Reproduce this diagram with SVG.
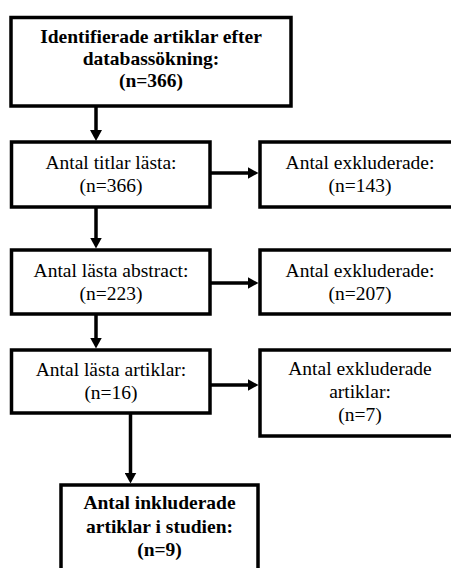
<svg xmlns="http://www.w3.org/2000/svg" width="451" height="568" viewBox="0 0 451 568">
  <style>
    .box { fill: #ffffff; stroke: #000000; stroke-width: 3.5; }
    .conn { stroke: #000000; stroke-width: 3.5; fill: none; }
    .t { font-family: "Liberation Serif", "Times New Roman", serif; font-size: 19.5px; fill: #000000; text-anchor: middle; }
    .b { font-weight: bold; }
  </style>
  <defs>
    <marker id="arrow" markerUnits="userSpaceOnUse" markerWidth="11" markerHeight="12" refX="6" refY="6" orient="auto">
      <path d="M0,0 L11,6 L0,12 z" fill="#000000"/>
    </marker>
  </defs>
  <rect width="451" height="568" fill="#ffffff"/>

  <g id="connectors">
    <line class="conn" x1="96" y1="106" x2="96" y2="136" marker-end="url(#arrow)"/>
    <line class="conn" x1="96" y1="207" x2="96" y2="243.5" marker-end="url(#arrow)"/>
    <line class="conn" x1="96" y1="314" x2="96" y2="343.5" marker-end="url(#arrow)"/>
    <line class="conn" x1="130.5" y1="413" x2="130.5" y2="478.5" marker-end="url(#arrow)"/>
    <line class="conn" x1="210" y1="173" x2="253.5" y2="173" marker-end="url(#arrow)"/>
    <line class="conn" x1="210" y1="283" x2="253.5" y2="283" marker-end="url(#arrow)"/>
    <line class="conn" x1="210" y1="385" x2="253.5" y2="385" marker-end="url(#arrow)"/>
  </g>

  <g id="node-identified">
    <rect class="box" x="11" y="17.5" width="280" height="88.5"/>
    <text class="t b" x="151" y="43">Identifierade artiklar efter</text>
    <text class="t b" x="151" y="65">databassökning:</text>
    <text class="t b" x="151" y="87">(n=366)</text>
  </g>

  <g id="node-titles">
    <rect class="box" x="11.5" y="142" width="198.5" height="65"/>
    <text class="t" x="111" y="169">Antal titlar lästa:</text>
    <text class="t" x="111" y="192">(n=366)</text>
  </g>

  <g id="node-excluded-1">
    <rect class="box" x="260" y="142" width="202" height="65"/>
    <text class="t" x="360" y="169">Antal exkluderade:</text>
    <text class="t" x="360" y="192">(n=143)</text>
  </g>

  <g id="node-abstracts">
    <rect class="box" x="11.5" y="250" width="198.5" height="64"/>
    <text class="t" x="111" y="277">Antal lästa abstract:</text>
    <text class="t" x="111" y="300">(n=223)</text>
  </g>

  <g id="node-excluded-2">
    <rect class="box" x="260" y="250" width="202" height="64"/>
    <text class="t" x="360" y="277">Antal exkluderade:</text>
    <text class="t" x="360" y="300">(n=207)</text>
  </g>

  <g id="node-articles">
    <rect class="box" x="11.5" y="350" width="198.5" height="63"/>
    <text class="t" x="111" y="375.5">Antal lästa artiklar:</text>
    <text class="t" x="111" y="398.5">(n=16)</text>
  </g>

  <g id="node-excluded-3">
    <rect class="box" x="260" y="350" width="202" height="86"/>
    <text class="t" x="360" y="375">Antal exkluderade</text>
    <text class="t" x="360" y="398">artiklar:</text>
    <text class="t" x="360" y="421">(n=7)</text>
  </g>

  <g id="node-included">
    <rect class="box" x="61" y="485" width="197" height="100"/>
    <text class="t b" x="159.5" y="509">Antal inkluderade</text>
    <text class="t b" x="159.5" y="533">artiklar i studien:</text>
    <text class="t b" x="159.5" y="556">(n=9)</text>
  </g>
</svg>
